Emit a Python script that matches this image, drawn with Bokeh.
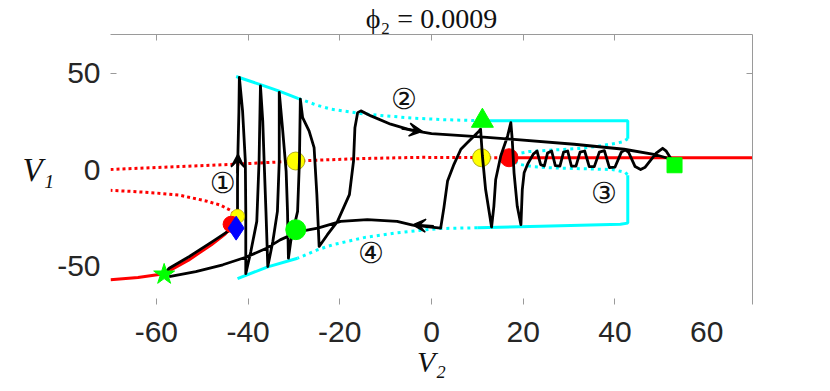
from bokeh.plotting import figure
from bokeh.models import (Range1d, LinearAxis, FixedTicker, Arrow,
                          VeeHead, ColumnDataSource)
from bokeh.core.properties import value
from bokeh.embed import file_html
from bokeh.resources import INLINE

# ---------------- data (V2 = x, V1 = y) ----------------
x_ticks_marked = [-60, -40, -20, 0, 20, 40]
x_tick_values = [-60, -40, -20, 0, 20, 40, 60]
x_tick_labels = ["-60", "-40", "-20", "0", "20", "40", "60"]
y_ticks_marked = [50]
y_tick_values = [-50, 0, 50]
y_tick_labels = ["-50", "0", "50"]
title_text = "\u03d5\u2082 = 0.0009"
x_label = "V\u2082"
y_label = "V\u2081"

# red equilibrium branches
red_lo_solid_v2 = [-70, -64, -58.3, -53, -48, -45, -43.3, -42.6]
red_lo_solid_v1 = [-57.2, -56.0, -54.0, -47.0, -39.0, -33.5, -29.0, -26.0]
red_lo_dot_v2 = [-42.6, -43.4, -46.0, -49.2, -55.0, -60.0, -65.0, -70.0]
red_lo_dot_v1 = [-26.0, -21.7, -18.5, -16.3, -13.3, -12.2, -11.4, -10.8]
red_hi_dot_v2 = [-70, -57, -43, -28.5, -15, -2.3, 8, 16.9]
red_hi_dot_v1 = [0.0, 1.3, 2.7, 4.5, 5.7, 6.3, 6.2, 6.1]
red_hi_solid_v2 = [16.9, 70]
red_hi_solid_v1 = [6.1, 6.1]

# cyan periodic-orbit envelopes
cy_up_solid_v2 = [-42.6, -37.3, -33.2, -29.0]
cy_up_solid_v1 = [48.2, 44.0, 40.6, 36.8]
cy_up_dot_v2 = [-29.0, -24.8, -21.9, -15.4, -10.0, -3.8, 3.0, 11.0]
cy_up_dot_v1 = [36.8, 33.2, 31.3, 29.0, 27.8, 26.6, 25.8, 25.3]
cy_box_top_v2 = [11.0, 42.8, 42.8]
cy_box_top_v1 = [25.3, 25.3, 16.0]
cy_in_up_v2 = [42.8, 41.8, 40.2, 36.0, 32.9, 28.0, 25.6, 21.3, 19.0, 16.9]
cy_in_up_v1 = [16.0, 14.4, 13.6, 12.0, 11.0, 10.3, 10.0, 9.3, 8.3, 6.1]
cy_in_lo_v2 = [16.9, 19.1, 22.0, 25.6, 32.9, 39.4, 42.3, 42.8]
cy_in_lo_v1 = [6.1, 2.7, 1.5, 0.9, 0.4, 0.0, -1.5, -3.0]
cy_box_bot_v2 = [42.8, 42.8, 41.2, 23.8, 10.0]
cy_box_bot_v1 = [-3.0, -27.8, -28.4, -29.4, -30.2]
cy_lo_dot_v2 = [10.0, 2.0, -0.2, -7.4, -14.5, -21.5, -24.8, -29.2]
cy_lo_dot_v1 = [-30.2, -30.6, -31.0, -32.8, -35.2, -39.0, -41.6, -46.0]
cy_lo_solid_v2 = [-29.2, -35.7, -42.3]
cy_lo_solid_v1 = [-46.0, -50.5, -56.6]

# black trajectory
traj_v2 = [-58.3, -57.2, -52.8, -47.7, -44.4, -43.0, -42.3, -42.3, -42.2, -42.0, -41.9,
           -41.2, -40.6, -40.5, -40.5,
           -39.4, -38.1, -37.6, -37.3,
           -36.8, -36.5, -36.1, -35.7,
           -34.6, -33.6, -33.2, -33.2,
           -32.5, -31.7, -31.4, -31.2,
           -30.7, -29.2, -28.8, -28.6,
           -28.1, -26.7, -25.6, -25.0, -24.5,
           -22.7, -20.5, -17.9, -17.0, -16.7, -16.1, -15.4,
           -13.2, -8.9, -4.5, 0.0, 10.7, 17.3, 31.1, 42.0, 48.5, 52.3,
           51.2, 50.4, 49.0, 46.6, 45.6, 44.4, 43.0, 42.3, 41.4, 40.0, 38.8, 37.7,
           36.6, 35.5, 34.4, 33.4, 32.4, 31.5, 30.5, 29.7, 28.8, 28.0, 27.0, 26.2,
           25.3, 24.6, 23.8, 23.0, 22.2, 21.0, 20.2, 19.8, 19.5,
           18.7, 18.0, 17.6, 17.3,
           16.6, 15.1, 14.0, 13.6, 13.1,
           11.8, 11.1, 10.7,
           10.4, 9.3, 7.8, 6.4, 4.9, 3.5, 2.7, 2.0,
           -4.1, -7.5, -14.0, -19.8, -24.8, -29.2, -33.0, -36.1, -40.5, -45.5, -51.4, -57.2]
traj_v1 = [-54.4, -51.2, -45.1, -37.3, -32.1, -26.0, -21.0, -5.0, 10.0, 30.0, 47.8,
           30.4, 4.4, -21.7, -54.0,
           -42.5, -26.9, 4.4, 43.4,
           25.2, 4.4, -21.7, -50.3,
           -37.3, -21.7, 4.4, 40.0,
           21.7, -0.8, -21.7, -46.0,
           -37.3, -21.7, 4.4, 36.5,
           26.9, 20.0, 11.3, -13.0, -39.9,
           -33.8, -26.9, -13.0, 4.4, 21.7, 29.5, 30.4,
           27.8, 23.5, 20.4, 18.6, 16.9, 15.7, 13.1, 10.5, 7.9, 5.3,
           9.5, 11.0, 8.5, 1.2, 0.0, 1.5, 8.8, 10.2, 9.0, 1.2, 1.0, 9.8,
           9.0, 1.5, 1.5, 9.6, 9.0, 1.8, 1.8, 9.6, 9.0, 1.8, 2.0, 9.6,
           8.5, 1.8, 2.5, 9.6, 8.0, 3.0, -1.7, -10.4, -28.6,
           -19.1, -1.7, 15.7, 24.3,
           17.4, 7.0, -5.2, -19.1, -29.8,
           -10.4, 7.0, 20.9,
           20.0, 17.4, 13.9, 10.5, 2.7, -6.0, -19.9, -30.4,
           -28.8, -26.9, -26.0, -26.9, -30.4, -32.4, -36.5, -41.0, -45.5, -49.4, -52.9, -55.5]

# direction arrows on the trajectory
arrow_x0 = [-42.3, -6.5, 0.5]
arrow_y0 = [-2.0, 21.2, -29.4]
arrow_x1 = [-42.2, -2.0, -4.1]
arrow_y1 = [8.0, 19.8, -28.7]

# markers
yellow_v2 = [-29.6, 10.9]
yellow_v1 = [4.4, 6.1]
hopf_v2 = [16.9]
hopf_v1 = [6.1]
cluster_yellow = (-42.3, -24.3)
cluster_red = (-43.7, -28.4)
cluster_blue = (-42.6, -30.4)
green_circle = (-29.6, -31.2)
green_triangle = (11.1, 25.2)
green_square = (53.0, 2.2)
green_star = (-58.3, -54.4)

# phase labels
phase_text = ["\u2460", "\u2461", "\u2462", "\u2463"]
phase_v2 = [-45.5, -6.0, 37.6, -13.2]
phase_v1 = [-6.9, 36.5, -12.1, -43.4]

# ---------------- figure ----------------
GRAY = "#9a9a9a"
TXT = "#262626"
SERIF = "Liberation Serif"

p = figure(width=822, height=390, x_range=Range1d(-70, 70), y_range=Range1d(-70, 70),
           output_backend="svg", toolbar_location=None,
           x_axis_location=None, y_axis_location=None,
           min_border_left=110, min_border_right=70, min_border_top=34, min_border_bottom=86)
p.grid.visible = False
p.outline_line_color = None
p.background_fill_color = "white"
p.border_fill_color = "white"

p.title.text = title_text
p.title.align = "center"
p.title.text_font = SERIF
p.title.text_font_style = "normal"
p.title.text_font_size = "28px"
p.title.text_color = "#111111"
p.title.standoff = 1


def tick_axis(ticks, line_color):
    ax = LinearAxis(ticker=FixedTicker(ticks=ticks), major_tick_in=6, major_tick_out=0,
                    major_tick_line_color=GRAY, major_tick_line_width=1,
                    minor_tick_line_color=None, axis_line_color=line_color,
                    axis_line_width=1, major_label_text_font_size="0px",
                    major_label_standoff=0)
    ax.major_label_overrides = {t: "" for t in ticks}
    return ax


def label_axis(vals, labels, standoff, axis_label, label_size):
    ax = LinearAxis(ticker=FixedTicker(ticks=vals), major_tick_in=0, major_tick_out=0,
                    major_tick_line_color=None, minor_tick_line_color=None,
                    axis_line_color=None, major_label_standoff=standoff,
                    major_label_text_font="Liberation Sans",
                    major_label_text_font_size="30px",
                    major_label_text_color=TXT,
                    axis_label=axis_label, axis_label_text_font=SERIF,
                    axis_label_text_font_style="italic",
                    axis_label_text_font_size=label_size,
                    axis_label_text_color="#111111",
                    axis_label_standoff=0,
                    axis_label_orientation="horizontal")
    ax.major_label_overrides = {v: s for v, s in zip(vals, labels)}
    return ax


p.add_layout(tick_axis(x_ticks_marked, None), "below")
p.add_layout(label_axis(x_tick_values, x_tick_labels, 17, x_label, "30px"), "below")
p.add_layout(tick_axis(x_ticks_marked, GRAY), "above")
p.add_layout(tick_axis(y_ticks_marked, None), "left")
p.add_layout(label_axis(y_tick_values, y_tick_labels, 10, y_label, "33px"), "left")
p.add_layout(tick_axis(y_ticks_marked, GRAY), "right")

RED, CYAN = "#ff0000", "#00ffff"
LW = 3
p.line(red_lo_solid_v2, red_lo_solid_v1, line_color=RED, line_width=LW)
p.line(red_hi_solid_v2, red_hi_solid_v1, line_color=RED, line_width=LW)
p.line(red_lo_dot_v2, red_lo_dot_v1, line_color=RED, line_width=LW, line_dash="3 3")
p.line(red_hi_dot_v2, red_hi_dot_v1, line_color=RED, line_width=LW, line_dash="3 3")

for xs, ys in [(cy_up_solid_v2, cy_up_solid_v1), (cy_box_top_v2, cy_box_top_v1),
               (cy_box_bot_v2, cy_box_bot_v1), (cy_lo_solid_v2, cy_lo_solid_v1)]:
    p.line(xs, ys, line_color=CYAN, line_width=LW)
for xs, ys in [(cy_up_dot_v2, cy_up_dot_v1), (cy_in_up_v2, cy_in_up_v1),
               (cy_in_lo_v2, cy_in_lo_v1), (cy_lo_dot_v2, cy_lo_dot_v1)]:
    p.line(xs, ys, line_color=CYAN, line_width=LW, line_dash="3 4")

# markers beneath the trajectory
p.scatter(yellow_v2, yellow_v1, marker="circle", size=18, fill_color="#ffff00",
          line_color="#a09a00", line_width=0.8)
p.scatter(hopf_v2, hopf_v1, marker="circle", size=18, fill_color=RED, line_color=RED)

p.line(traj_v2, traj_v1, line_color="black", line_width=2.8, line_join="round")

arrows = ColumnDataSource(dict(x0=arrow_x0, y0=arrow_y0, x1=arrow_x1, y1=arrow_y1))
p.add_layout(Arrow(source=arrows, x_start="x0", y_start="y0", x_end="x1", y_end="y1",
                   line_color="black", line_width=2.5,
                   end=VeeHead(size=13, fill_color="black", line_color="black", line_width=1.5)))

# markers above the trajectory
p.scatter([green_circle[0]], [green_circle[1]], marker="circle", size=20,
          fill_color="#00ff00", line_color="#00ff00")
p.scatter([green_triangle[0]], [green_triangle[1]], marker="triangle", size=22,
          fill_color="#00ff00", line_color="#00ff00")
p.scatter([green_square[0]], [green_square[1]], marker="square", size=15,
          fill_color="#00ff00", line_color="#00ff00")
p.scatter([green_star[0]], [green_star[1]], marker="star", size=22,
          fill_color="#00ff00", line_color="#00ff00")
p.scatter([cluster_yellow[0]], [cluster_yellow[1]], marker="circle", size=14,
          fill_color="#ffff00", line_color="#c0b000", line_width=0.8)
p.scatter([cluster_red[0]], [cluster_red[1]], marker="circle", size=16,
          fill_color=RED, line_color=RED)
p.scatter([cluster_blue[0]], [cluster_blue[1]], marker="diamond", size=24,
          fill_color="#0000ff", line_color="#0000ff")

phase_src = ColumnDataSource(dict(x=phase_v2, y=phase_v1, t=phase_text))
p.text(x="x", y="y", text="t", source=phase_src, text_font=value("DejaVu Sans"),
       text_font_size="29px", text_align="center", text_baseline="middle",
       text_color="#111111")

open("out.html", "w").write(file_html(p, INLINE))
